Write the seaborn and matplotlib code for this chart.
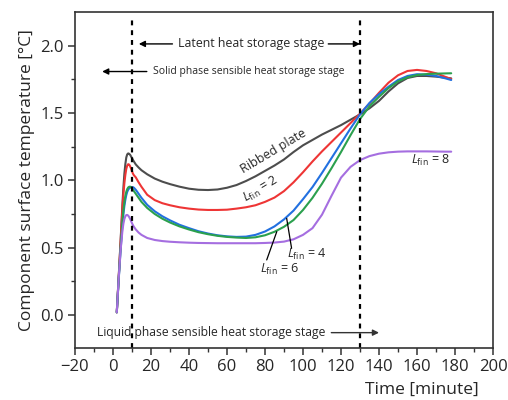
import numpy as np
import pandas as pd
import matplotlib
matplotlib.use("Agg")
import matplotlib.pyplot as plt
import seaborn as sns

# ---------------- data ----------------
t = [2, 3, 4, 5, 5.5, 6, 6.5, 7, 7.5, 8, 8.5, 9, 9.5, 10, 10.5, 11, 12, 13.5, 15, 18,
     22, 26, 30, 35, 40, 45, 50, 55, 60, 65, 70, 75, 80, 85, 90, 95, 100, 105, 110,
     115, 120, 125, 130, 135, 140, 145, 150, 155, 160, 165, 170, 175, 178]

ribbed = [0.02, 0.28, 0.55, 0.83, 0.95, 1.05, 1.12, 1.17, 1.193, 1.20, 1.197, 1.19, 1.178, 1.165,
          1.152, 1.14, 1.118, 1.095, 1.075, 1.045, 1.013, 0.99, 0.972, 0.953, 0.938,
          0.93, 0.928, 0.932, 0.945, 0.965, 0.995, 1.03, 1.07, 1.11, 1.155, 1.21, 1.26, 1.30,
          1.34, 1.375, 1.41, 1.45, 1.49, 1.535, 1.59, 1.66, 1.72, 1.76, 1.775, 1.775, 1.77,
          1.762, 1.757]
lfin2 = [0.02, 0.28, 0.54, 0.80, 0.90, 0.98, 1.04, 1.085, 1.11, 1.12, 1.117, 1.105, 1.088, 1.068,
         1.05, 1.038, 1.022, 0.985, 0.952, 0.893, 0.853, 0.83, 0.815, 0.80, 0.79,
         0.783, 0.78, 0.78, 0.782, 0.79, 0.80, 0.815, 0.84, 0.872, 0.92, 0.985, 1.06, 1.14,
         1.215, 1.285, 1.355, 1.425, 1.495, 1.57, 1.65, 1.725, 1.78, 1.812, 1.82, 1.812, 1.795,
         1.768, 1.752]
lfin4 = [0.02, 0.26, 0.48, 0.67, 0.75, 0.81, 0.855, 0.89, 0.915, 0.93, 0.94, 0.946, 0.949, 0.95,
         0.949, 0.945, 0.93, 0.90, 0.87, 0.818, 0.77, 0.733, 0.703, 0.67, 0.645,
         0.622, 0.605, 0.592, 0.584, 0.58, 0.582, 0.595, 0.62, 0.658, 0.71, 0.775, 0.86, 0.95,
         1.055, 1.165, 1.275, 1.385, 1.49, 1.575, 1.64, 1.695, 1.745, 1.775, 1.788, 1.785, 1.775,
         1.757, 1.745]
lfin6 = [0.02, 0.27, 0.50, 0.70, 0.78, 0.84, 0.885, 0.915, 0.935, 0.947, 0.952, 0.953, 0.95, 0.94,
         0.93, 0.92, 0.90, 0.87, 0.84, 0.795, 0.75, 0.715, 0.687, 0.658, 0.635,
         0.615, 0.60, 0.588, 0.58, 0.575, 0.572, 0.577, 0.592, 0.618, 0.655, 0.705, 0.78, 0.87,
         0.975, 1.09, 1.21, 1.335, 1.455, 1.55, 1.62, 1.685, 1.735, 1.765, 1.782, 1.789, 1.792,
         1.794, 1.795]
lfin8 = [0.02, 0.27, 0.48, 0.63, 0.68, 0.713, 0.733, 0.742, 0.743, 0.738, 0.728, 0.714, 0.698, 0.682,
         0.667, 0.655, 0.635, 0.612, 0.595, 0.572, 0.557, 0.549, 0.544, 0.54, 0.537,
         0.535, 0.534, 0.533, 0.533, 0.533, 0.533, 0.533, 0.535, 0.538, 0.545, 0.562, 0.595, 0.645,
         0.745, 0.885, 1.02, 1.10, 1.15, 1.18, 1.198, 1.208, 1.213, 1.215, 1.215, 1.215, 1.214,
         1.213, 1.213]

series_names = ["Ribbed plate", "Lfin=2", "Lfin=4", "Lfin=6", "Lfin=8"]
series_vals = [ribbed, lfin2, lfin4, lfin6, lfin8]
colors = ["#4d4d4d", "#ee3535", "#2270e0", "#2ba04e", "#a56ee0"]

x_ticks = [-20, 0, 20, 40, 60, 80, 100, 120, 140, 160, 180, 200]
y_ticks = [0.0, 0.5, 1.0, 1.5, 2.0]
stage_lines = [10, 130]

# ---------------- plotting ----------------
sns.set_style("ticks")
plt.rcParams["font.family"] = ["Open Sans", "DejaVu Sans"]
plt.rcParams["mathtext.fontset"] = "custom"
plt.rcParams["mathtext.rm"] = "Open Sans"
plt.rcParams["mathtext.it"] = "Open Sans:italic"

df = pd.concat([pd.DataFrame({"t": t, "v": v, "series": n})
                for n, v in zip(series_names, series_vals)], ignore_index=True)

fig = plt.figure(figsize=(5.08, 4.0), dpi=100)
ax = fig.add_axes([0.1476, 0.13, 0.8229, 0.84])

sns.lineplot(data=df, x="t", y="v", hue="series", hue_order=series_names,
             palette=colors, estimator=None, legend=False, lw=1.5, ax=ax)

ax.set_xlim(-20, 200)
ax.set_ylim(-0.245, 2.25)
ax.set_xticks(x_ticks)
ax.set_yticks(y_ticks)
ax.set_xticks(np.arange(-10, 200, 20), minor=True)
ax.set_yticks([0.25, 0.75, 1.25, 1.75], minor=True)
ax.set_yticklabels([f"{v:.1f}" for v in y_ticks])
ax.tick_params(axis="both", which="major", direction="out", length=5, width=1.1,
               labelsize=12, color="#333333", pad=3)
ax.tick_params(axis="both", which="minor", direction="out", length=3, width=1.0, color="#333333")
for s in ax.spines.values():
    s.set_linewidth(1.2)
    s.set_color("#333333")

ax.set_xlabel("Time [minute]", fontsize=12.5)
ax.xaxis.set_label_coords(0.83, -0.1)
ax.set_ylabel("Component surface temperature [\u00b0C]", fontsize=12.5, labelpad=4)

# stage dividing lines
for xv in stage_lines:
    ax.plot([xv, xv], [-0.245, 2.2], color="black", lw=1.6, ls=(0, (2.2, 2.2)))

arrow = dict(arrowstyle="-|>", color="black", lw=1.0, mutation_scale=9, shrinkA=0, shrinkB=0)
ax.text(34.3, 2.013, "Latent heat storage stage", fontsize=8.9, ha="left", va="center")
ax.annotate("", xy=(13.6, 2.013), xytext=(31.3, 2.013), arrowprops=arrow)
ax.annotate("", xy=(130, 2.013), xytext=(113.3, 2.013), arrowprops=arrow)

ax.text(20.9, 1.808, "Solid phase sensible heat storage stage", fontsize=7.5, ha="left", va="center")
ax.annotate("", xy=(-5.7, 1.808), xytext=(17.8, 1.808), arrowprops=arrow)

ax.text(-8.4, -0.131, "Liquid phase sensible heat storage stage", fontsize=8.7, ha="left", va="center")
ax.annotate("", xy=(140, -0.131), xytext=(114.9, -0.131),
            arrowprops=dict(arrowstyle="-|>", color="#333333", lw=1.0, mutation_scale=9,
                            shrinkA=0, shrinkB=0))

# curve labels
ax.text(84.5, 1.215, "Ribbed plate", fontsize=9, rotation=31, ha="center", va="center",
        rotation_mode="anchor")
ax.text(78.0, 0.93, r"$L_{\mathrm{fin}}$ = 2", fontsize=9, rotation=31, ha="center", va="center",
        rotation_mode="anchor")
ax.text(101.8, 0.446, r"$L_{\mathrm{fin}}$ = 4", fontsize=9, ha="center", va="center")
ax.text(87.9, 0.34, r"$L_{\mathrm{fin}}$ = 6", fontsize=9, ha="center", va="center")
ax.text(167.1, 1.151, r"$L_{\mathrm{fin}}$ = 8", fontsize=9, ha="center", va="center")

lead = dict(arrowstyle="-", color="black", lw=0.9, shrinkA=0, shrinkB=0)
ax.annotate("", xy=(91.4, 0.718), xytext=(94.0, 0.495), arrowprops=lead)
ax.annotate("", xy=(86.2, 0.619), xytext=(80.9, 0.409), arrowprops=lead)

fig.savefig("out.png", dpi=100)
